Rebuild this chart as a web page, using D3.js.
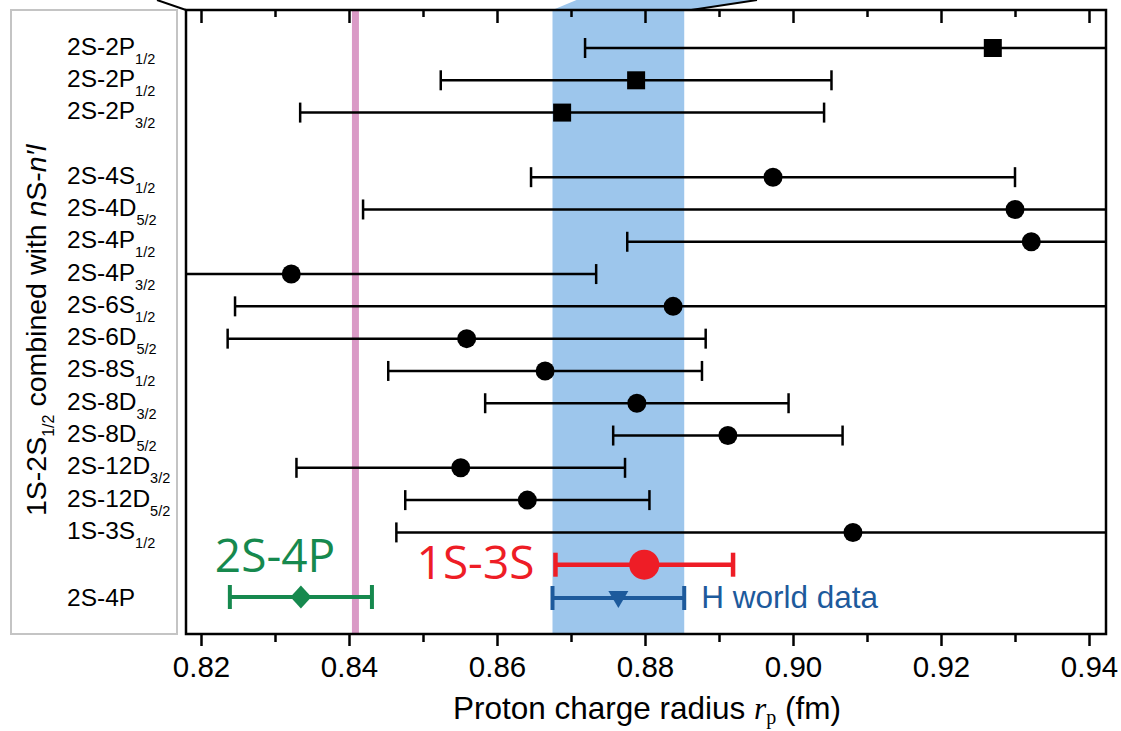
<!DOCTYPE html>
<html><head><meta charset="utf-8">
<script src="https://cdn.jsdelivr.net/npm/d3@7"></script>
<style>body{margin:0;background:#fff} svg{display:block}</style>
</head><body>
<svg id="c" width="1121" height="731"></svg>
<script>
// ---------- data ----------
const rowLabels = ["2S-2P","2S-2P","2S-2P","2S-4S","2S-4D","2S-4P","2S-4P","2S-6S","2S-6D","2S-8S","2S-8D","2S-8D","2S-12D","2S-12D","1S-3S"];
const rowSubs   = ["1/2","1/2","3/2","1/2","5/2","1/2","3/2","1/2","5/2","1/2","3/2","5/2","3/2","5/2","1/2"];
const rowSlots  = [0,1,2,4,5,6,7,8,9,10,11,12,13,14,15];
const rowValues = [0.9270,0.8788,0.8688,0.8973,0.9300,0.9322,0.8322,0.8838,0.8559,0.8665,0.8789,0.8912,0.8551,0.8641,0.9081];
const rowErrors = [0.0551,0.0264,0.0354,0.0327,0.0881,0.0546,0.0412,0.0592,0.0323,0.0212,0.0205,0.0155,0.0222,0.0165,0.0617];
const rowShapes = ["square","square","square","circle","circle","circle","circle","circle","circle","circle","circle","circle","circle","circle","circle"];

const xTicks      = [0.82,0.84,0.86,0.88,0.90,0.92,0.94];
const xMinorTicks = [0.83,0.85,0.87,0.89,0.91,0.93];

const muonicRadius = 0.84087;
const worldValue = 0.8764, worldError = 0.0089;      // H world data
const s13Value = 0.8799, s13Error = 0.0120;          // 1S-3S
const p24Value = 0.8335, p24Error = 0.0096;          // 2S-4P
const bottomLabel = "2S-4P";
const s13Slot = 16, bottomSlot = 17;

// ---------- layout ----------
const svg = d3.select("#c");
const L = 186, R = 1106, T = 10, B = 634;
const x = d3.scaleLinear().domain([0.817973, 0.942297]).range([L, R]);
const y = d3.scaleLinear().domain([0, 17]).range([48, 597]);
const F = "'Liberation Sans', Arial, Helvetica, sans-serif";

svg.append("defs").append("clipPath").attr("id","plotclip")
  .append("rect").attr("x",L).attr("y",T).attr("width",R-L).attr("height",B-T);

// zoom connector above the frame
const bandColor = "#9dc6ec";
svg.append("path")
  .attr("d", `M${x(worldValue-worldError)},${T} L${x(worldValue-worldError)+24},0 L757,0 L${x(worldValue+worldError)+7},${T} Z`)
  .attr("fill", bandColor);
svg.append("line").attr("x1",157).attr("y1",0).attr("x2",L).attr("y2",T).attr("stroke","#000").attr("stroke-width",2);
svg.append("line").attr("x1",x(worldValue+worldError)+7).attr("y1",T).attr("x2",757).attr("y2",0).attr("stroke","#000").attr("stroke-width",2);

// grey label box
svg.append("rect").attr("x",11).attr("y",T).attr("width",166).attr("height",B-T)
  .attr("fill","none").attr("stroke","#c4c4c4").attr("stroke-width",2);

const plot = svg.append("g").attr("clip-path","url(#plotclip)");

// band and muonic line
plot.append("rect").attr("x",x(worldValue-worldError)).attr("y",T)
  .attr("width",x(worldValue+worldError)-x(worldValue-worldError)).attr("height",B-T)
  .attr("fill",bandColor);
plot.append("line").attr("x1",x(muonicRadius)).attr("x2",x(muonicRadius)).attr("y1",T).attr("y2",B)
  .attr("stroke","#da9ac6").attr("stroke-width",7);

// black error bars
const rows = rowLabels.map((l,i)=>({label:l, sub:rowSubs[i], slot:rowSlots[i], v:rowValues[i], e:rowErrors[i], shape:rowShapes[i]}));
function errbar(g, v, e, yy, color, w, capH){
  g.append("line").attr("x1",x(v-e)).attr("x2",x(v+e)).attr("y1",yy).attr("y2",yy)
    .attr("stroke",color).attr("stroke-width",w);
  [v-e, v+e].forEach(c=>{
    g.append("line").attr("x1",x(c)).attr("x2",x(c)).attr("y1",yy-capH).attr("y2",yy+capH)
      .attr("stroke",color).attr("stroke-width",w);
  });
}
rows.forEach(d=>{
  errbar(plot, d.v, d.e, y(d.slot), "#000", 2.5, 10);
  if(d.shape==="square"){
    plot.append("rect").attr("x",x(d.v)-9).attr("y",y(d.slot)-9).attr("width",18).attr("height",18).attr("fill","#000");
  } else {
    plot.append("circle").attr("cx",x(d.v)).attr("cy",y(d.slot)).attr("r",9.5).attr("fill","#000");
  }
});

// 1S-3S (red)
const red = "#ee1d26";
errbar(plot, s13Value, s13Error, y(s13Slot), red, 4.5, 12);
plot.append("circle").attr("cx",x(s13Value)).attr("cy",y(s13Slot)).attr("r",15).attr("fill",red);
svg.append("text").attr("x",x(s13Value-s13Error)-21).attr("y",y(s13Slot)+14)
  .attr("text-anchor","end").attr("font-family","'Open Sans', 'Noto Sans', sans-serif")
  .attr("font-size",46).attr("fill",red).text("1S-3S");

// H world data (blue)
const blue = "#1d5a9c";
const yb = y(bottomSlot)+1;
errbar(plot, worldValue, worldError, yb, blue, 4, 12);
plot.append("path")
  .attr("d", `M${x(worldValue)-10},${yb-7} L${x(worldValue)+10},${yb-7} L${x(worldValue)},${yb+10} Z`)
  .attr("fill",blue);
svg.append("text").attr("x",x(worldValue+worldError)+17).attr("y",yb+10)
  .attr("font-family",F).attr("font-size",31.5).attr("fill",blue).text("H world data");

// 2S-4P (green)
const green = "#16894e";
const yg = y(bottomSlot);
errbar(plot, p24Value, p24Error, yg, green, 4, 12);
plot.append("path")
  .attr("d", `M${x(p24Value)},${yg-11.5} L${x(p24Value)+10.5},${yg} L${x(p24Value)},${yg+11.5} L${x(p24Value)-10.5},${yg} Z`)
  .attr("fill",green);
svg.append("text").attr("x",x(p24Value-p24Error)-15).attr("y",yg-25)
  .attr("font-family","'Open Sans', 'Noto Sans', sans-serif")
  .attr("font-size",46).attr("fill",green).text("2S-4P");

// frame
svg.append("rect").attr("x",L).attr("y",T).attr("width",R-L).attr("height",B-T)
  .attr("fill","none").attr("stroke","#000").attr("stroke-width",2.5);

// axes
const bottomAxis = svg.append("g").attr("transform",`translate(0,${B})`)
  .call(d3.axisBottom(x).tickValues(xTicks).tickSize(12).tickPadding(10).tickFormat(d3.format(".2f")));
bottomAxis.select(".domain").remove();
bottomAxis.selectAll("line").attr("stroke","#000").attr("stroke-width",2.5);
bottomAxis.selectAll("text").attr("font-family",F).attr("font-size",29.5).attr("fill","#000").attr("dy","0.71em");
const bottomMinor = svg.append("g").attr("transform",`translate(0,${B})`)
  .call(d3.axisBottom(x).tickValues(xMinorTicks).tickSize(8).tickFormat(""));
bottomMinor.select(".domain").remove();
bottomMinor.selectAll("line").attr("stroke","#000").attr("stroke-width",2.5);

const topAxis = svg.append("g").attr("transform",`translate(0,${T})`)
  .call(d3.axisBottom(x).tickValues(xTicks).tickSize(13).tickFormat(""));
topAxis.select(".domain").remove();
topAxis.selectAll("line").attr("stroke","#000").attr("stroke-width",2.5);
const topMinor = svg.append("g").attr("transform",`translate(0,${T})`)
  .call(d3.axisBottom(x).tickValues(xMinorTicks).tickSize(7).tickFormat(""));
topMinor.select(".domain").remove();
topMinor.selectAll("line").attr("stroke","#000").attr("stroke-width",2.5);

// x title
const xt = svg.append("text").attr("x",647).attr("y",719).attr("text-anchor","middle")
  .attr("font-family",F).attr("font-size",31.5).attr("fill","#000");
xt.append("tspan").text("Proton charge radius ");
xt.append("tspan").attr("font-family","'Liberation Serif', 'DejaVu Serif', serif").attr("font-style","italic").text("r");
xt.append("tspan").attr("font-family","'Liberation Serif', 'DejaVu Serif', serif").attr("font-size",20).attr("dy",5).text("p");
xt.append("tspan").attr("dy",-5).text(" (fm)");

// row labels
const lab = svg.append("g").attr("font-family",F).attr("fill","#000");
rows.forEach(d=>{
  const t = lab.append("text").attr("x",67).attr("y",y(d.slot)+6.5).attr("font-size",24.5);
  t.append("tspan").text(d.label);
  t.append("tspan").attr("font-size",14.5).attr("dy",9).text(d.sub);
});
lab.append("text").attr("x",67).attr("y",y(bottomSlot)+8.5).attr("font-size",24.5).text(bottomLabel);

// y title
const yt = svg.append("text").attr("transform","translate(46,516) rotate(-90)")
  .attr("text-anchor","start").attr("font-family",F).attr("font-size",28.5).attr("fill","#000");
yt.append("tspan").text("1S-2S");
yt.append("tspan").attr("font-size",16).attr("dy",8).text("1/2");
yt.append("tspan").attr("dy",-8).text(" combined with ");
yt.append("tspan").attr("font-style","italic").text("n");
yt.append("tspan").text("S-");
yt.append("tspan").attr("font-style","italic").text("n′l");
</script>
</body></html>
